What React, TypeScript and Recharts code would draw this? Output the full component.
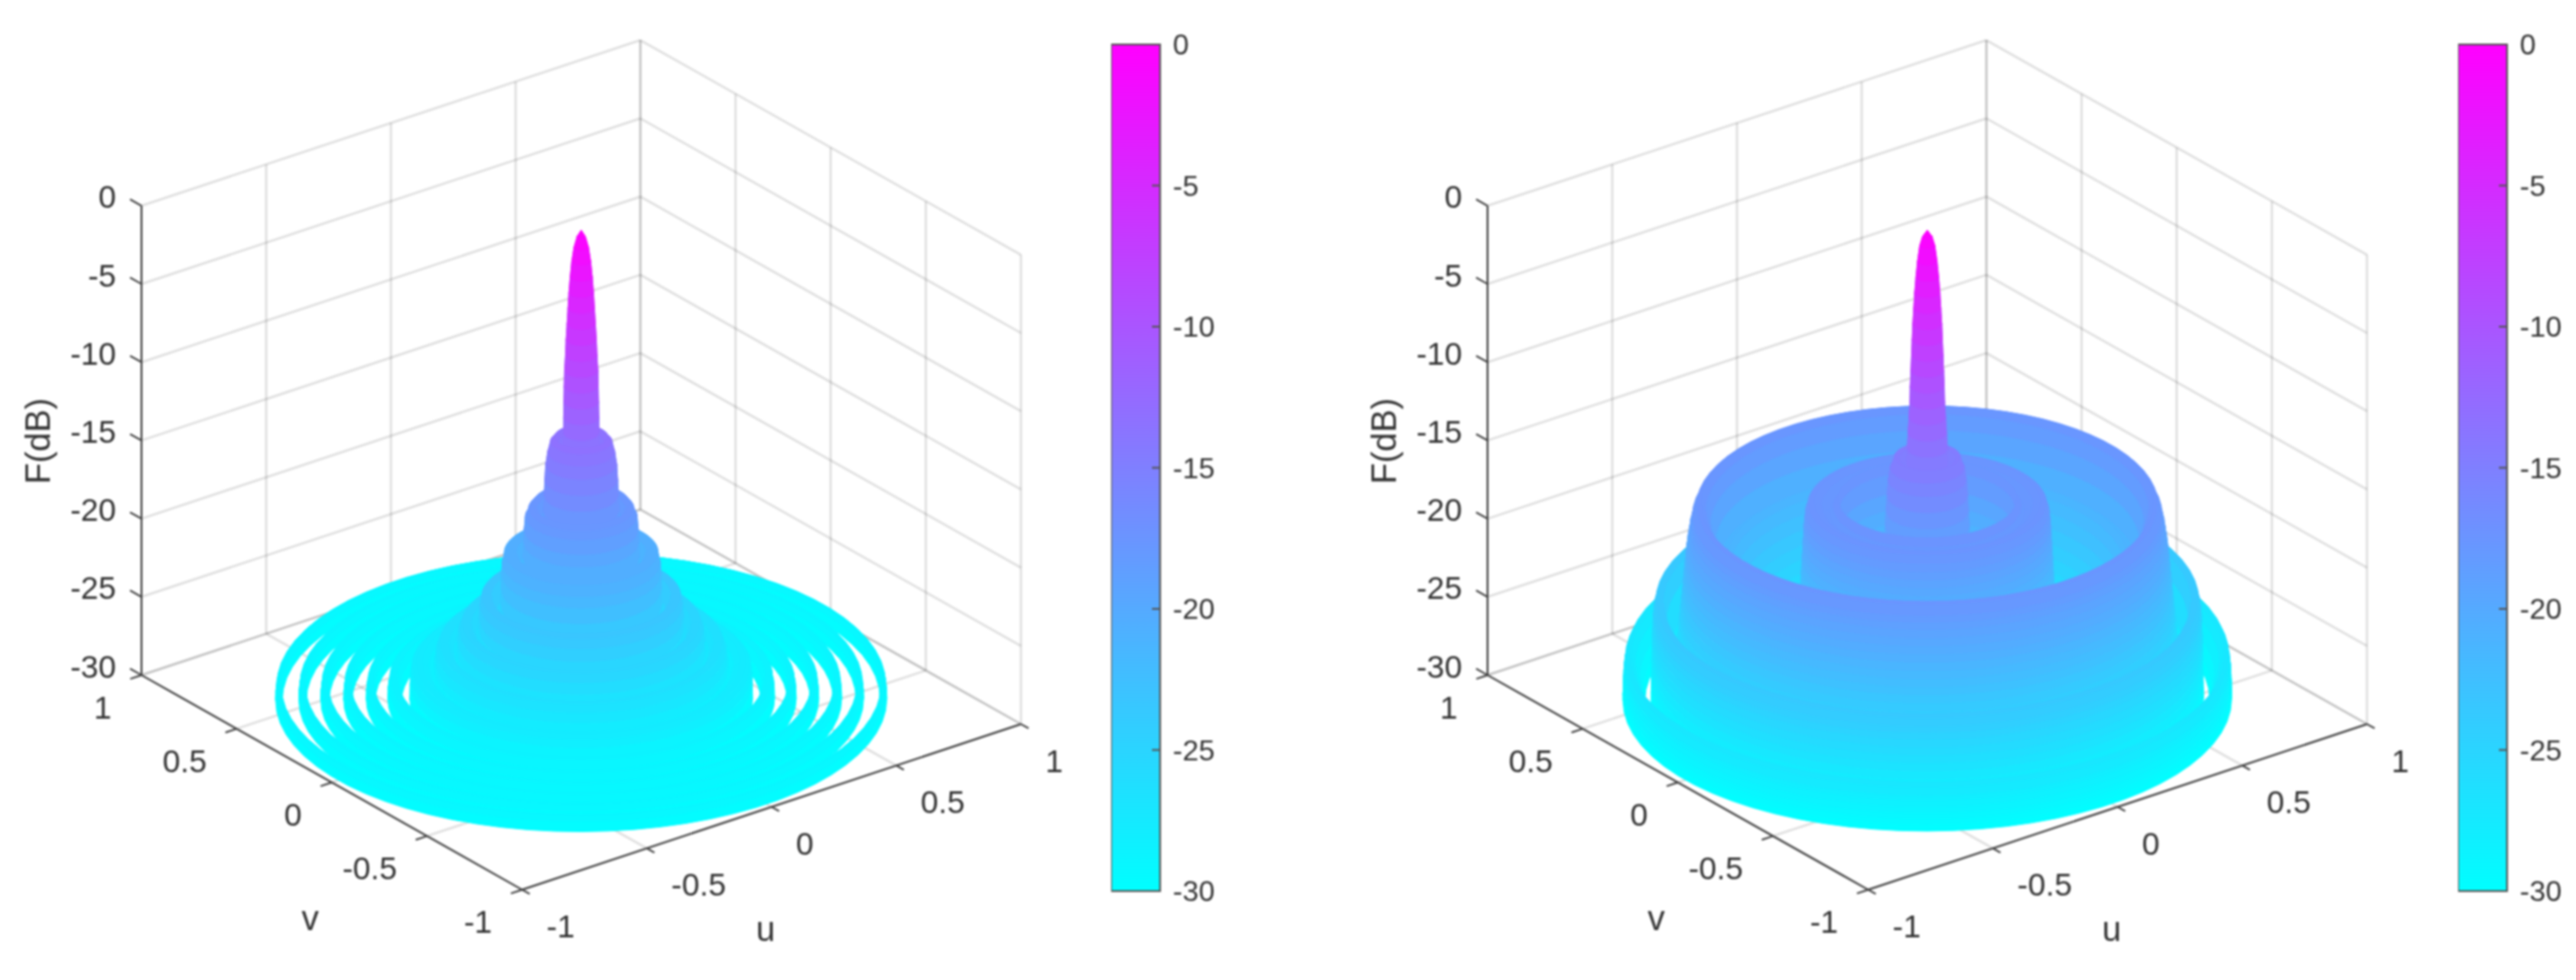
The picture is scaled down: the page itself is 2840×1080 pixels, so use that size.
import { ComposedChart, BarChart, Bar, Line, XAxis, YAxis } from "recharts";

// axis ticks as printed on the figure
const uvTicks = [-1, -0.5, 0, 0.5, 1];
const dbTicks = [-30, -25, -20, -15, -10, -5, 0];

// Radiation pattern profiles: [radius in uv, F in dB].
// Every lobe is listed from its outer edge to its inner edge, outermost lobe first.
// Below -30 dB the surface is clipped, so there is a hole between separate lobes.
const leftLobes: number[][][] = [
  [[0.974, -30], [0.973, -29.4], [0.97, -29.05], [0.963, -29], [0.957, -29.05], [0.954, -29.4], [0.953, -30]],
  [[0.9, -30], [0.899, -29.4], [0.896, -29], [0.888, -28.95], [0.88, -29], [0.877, -29.4], [0.876, -30]],
  [[0.83, -30], [0.829, -29.4], [0.826, -28.95], [0.816, -28.9], [0.807, -28.95], [0.804, -29.4], [0.803, -30]],
  [[0.757, -30], [0.756, -29.4], [0.753, -28.9], [0.743, -28.85], [0.735, -28.9], [0.731, -29.4], [0.73, -30]],
  [[0.685, -30], [0.684, -29.3], [0.68, -28.85], [0.67, -28.75], [0.661, -28.85], [0.657, -29.3], [0.656, -30]],
  [[0.616, -30], [0.615, -29.2], [0.61, -28.6], [0.6, -28.5], [0.585, -28.6], [0.575, -29.2], [0.572, -30]],
  [[0.546, -30], [0.545, -29], [0.544, -28.4], [0.54, -27.9], [0.525, -27.7], [0.505, -27.7], [0.485, -27.9], [0.47, -28.5],
    [0.468, -28], [0.466, -27.5], [0.462, -26.9], [0.452, -26.4], [0.44, -26.3], [0.42, -26.5], [0.405, -27], [0.397, -27.5],
    [0.396, -27], [0.394, -26.3], [0.39, -25.6], [0.38, -25.1], [0.365, -25], [0.35, -25.2], [0.335, -25.8], [0.327, -26.5],
    [0.326, -25.5], [0.325, -24.8], [0.323, -24], [0.317, -23.4], [0.3, -23.2], [0.285, -23.4], [0.27, -24.5], [0.258, -25.5],
    [0.256, -24], [0.255, -23], [0.254, -22], [0.252, -21.3], [0.245, -20.6], [0.22, -20.3], [0.205, -20.6], [0.195, -21.5], [0.188, -23],
    [0.187, -22], [0.185, -21], [0.183, -20], [0.182, -19.2], [0.178, -18.3], [0.168, -17.8], [0.155, -17.5], [0.14, -17.8], [0.13, -18.5], [0.124, -20],
    [0.122, -19], [0.12, -18], [0.118, -17], [0.116, -16], [0.113, -15], [0.107, -14.2], [0.098, -13.5], [0.085, -13.2], [0.072, -13.6], [0.064, -14.5],
    [0.058, -14], [0.056, -13], [0.056, -12], [0.055, -11], [0.054, -10], [0.053, -9], [0.05, -8], [0.048, -7], [0.045, -6], [0.042, -5], [0.039, -4], [0.035, -3], [0.03, -2], [0.023, -1.1], [0.013, -0.4], [0, 0]],
];

const rightLobes: number[][][] = [
  [[0.97, -30], [0.97, -29.6], [0.969, -29.25], [0.969, -28.9], [0.968, -28.5], [0.967, -28.1], [0.966, -27.8], [0.962, -27.3], [0.955, -27], [0.945, -27.3], [0.93, -27.8], [0.915, -28.6], [0.905, -29.4], [0.9, -30]],
  [[0.88, -30], [0.88, -29.5], [0.879, -29], [0.879, -28.5], [0.878, -28], [0.878, -27.5], [0.877, -27], [0.877, -26.5], [0.876, -26], [0.875, -25.5], [0.874, -25], [0.873, -24.6], [0.871, -24.2], [0.865, -23.7], [0.855, -23.5], [0.84, -23.8], [0.83, -25], [0.82, -27],
    [0.81, -27.5], [0.8, -27], [0.798, -26.5], [0.795, -26], [0.793, -25.5], [0.79, -25], [0.788, -24.5], [0.785, -24], [0.783, -23.5], [0.78, -23], [0.778, -22.5], [0.775, -22], [0.773, -21.5], [0.77, -21], [0.768, -20.5], [0.765, -20], [0.761, -19.5], [0.757, -19], [0.752, -18.6], [0.748, -18.2], [0.735, -17.6], [0.72, -17.5],
    [0.705, -17.9], [0.69, -18.8], [0.675, -20], [0.665, -21.4], [0.65, -21.2], [0.635, -21], [0.625, -21.5], [0.61, -22.2], [0.595, -23], [0.58, -23.8], [0.565, -24.5], [0.55, -25.2], [0.53, -25.8], [0.48, -26.2], [0.44, -26.2], [0.42, -26],
    [0.414, -25.5], [0.412, -25], [0.41, -24.5], [0.408, -24], [0.406, -23.5], [0.405, -23], [0.403, -22.5], [0.402, -22], [0.4, -21.5], [0.399, -21], [0.397, -20.5], [0.396, -20], [0.394, -19.5], [0.393, -19], [0.391, -18.5], [0.388, -18], [0.38, -17.5], [0.36, -17.4], [0.335, -17.6], [0.31, -18], [0.3, -17.7], [0.285, -17.2], [0.277, -17.8], [0.272, -19], [0.268, -20], [0.26, -20.8], [0.2, -21.2], [0.15, -21.2],
    [0.14, -21], [0.137, -20], [0.134, -19], [0.131, -18], [0.128, -17], [0.124, -16], [0.118, -15.2], [0.105, -14.5], [0.09, -14.6], [0.075, -15],
    [0.066, -15], [0.064, -14], [0.061, -13], [0.058, -12], [0.055, -11], [0.054, -10], [0.052, -9], [0.05, -8], [0.048, -7], [0.046, -6], [0.043, -5], [0.04, -4], [0.036, -3], [0.031, -2], [0.024, -1], [0.015, -0.4], [0, 0]],
];

const PANEL_W = 1356;
const PANEL_H = 1080;
const ARC_STEPS = 36;

// 3D view of the box, calibrated on the corners of the axes
const toScreen = (u: number, v: number, f: number) => ({
  x: 640.8 + 275 * u - 209.8 * v,
  y: 771 - 91.25 * u - 118.25 * v - 17.24 * (f + 30),
});

const coolColor = (f: number) => {
  const t = Math.min(1, Math.max(0, (f + 30) / 30));
  return `rgb(${Math.round(255 * t)},${Math.round(255 * (1 - t))},255)`;
};

// the direction in uv that lands on the left/right edge of the drawn ellipse
const SPLIT = Math.atan2(-209.8, 275);

function ringArc(r: number, f: number, start: number) {
  const pts = [];
  for (let i = 0; i <= ARC_STEPS; i++) {
    const a = start + (Math.PI * i) / ARC_STEPS;
    pts.push(toScreen(r * Math.cos(a), r * Math.sin(a), f));
  }
  return pts;
}

function bandsOf(lobes: number[][][], start: number) {
  const bands = [];
  for (const lobe of lobes) {
    for (let i = 0; i + 1 < lobe.length; i++) {
      const [r1, f1] = lobe[i];
      const [r2, f2] = lobe[i + 1];
      const outer = ringArc(r1, f1, start);
      const inner = ringArc(r2, f2, start).reverse();
      bands.push({ color: coolColor((f1 + f2) / 2), points: [...outer, ...inner, outer[0]] });
    }
  }
  return bands;
}

// painter's order: back half from the rim inward, then front half from the centre outward
const surfaceOf = (lobes: number[][][]) => [
  ...bandsOf(lobes, SPLIT),
  ...bandsOf(lobes, SPLIT + Math.PI).reverse(),
];

type Seg = { points: { x: number; y: number }[] };

const gridSegments: Seg[] = [
  ...uvTicks.map((t) => ({ points: [toScreen(t, 1, -30), toScreen(t, 1, 0)] })),
  ...uvTicks.map((t) => ({ points: [toScreen(1, t, -30), toScreen(1, t, 0)] })),
  ...dbTicks.map((d) => ({ points: [toScreen(-1, 1, d), toScreen(1, 1, d)] })),
  ...dbTicks.map((d) => ({ points: [toScreen(1, 1, d), toScreen(1, -1, d)] })),
  ...uvTicks.map((t) => ({ points: [toScreen(t, -1, -30), toScreen(t, 1, -30)] })),
  ...uvTicks.map((t) => ({ points: [toScreen(-1, t, -30), toScreen(1, t, -30)] })),
];

const axisSegments: Seg[] = [
  { points: [toScreen(-1, 1, -30), toScreen(-1, 1, 0)] },
  { points: [toScreen(-1, 1, -30), toScreen(-1, -1, -30)] },
  { points: [toScreen(-1, -1, -30), toScreen(1, -1, -30)] },
  ...dbTicks.map((d) => ({ points: [toScreen(-1, 1, d), toScreen(-1, 1.06, d)] })),
  ...uvTicks.map((t) => ({ points: [toScreen(-1, t, -30), toScreen(-1.045, t, -30)] })),
  ...uvTicks.map((t) => ({ points: [toScreen(t, -1, -30), toScreen(t, -1.04, -30)] })),
];

const offset = (p: { x: number; y: number }, dx: number, dy: number) => ({ x: p.x + dx, y: p.y + dy });

const textLabels = [
  ...dbTicks.map((d) => ({ ...offset(toScreen(-1, 1, d), -28, -10), text: String(d), anchor: "end", size: 35 })),
  ...uvTicks.map((t) => ({ ...offset(toScreen(-1, t, -30), -33, 35), text: String(t), anchor: "end", size: 35 })),
  ...uvTicks.map((t) => ({ ...offset(toScreen(t, -1, -30), 27, 40), text: String(t), anchor: "start", size: 35 })),
  { x: 342, y: 1012, text: "v", anchor: "middle", size: 38 },
  { x: 844, y: 1024, text: "u", anchor: "middle", size: 38 },
  { x: 42, y: 486, text: "F(dB)", anchor: "middle", size: 38, rotate: true },
];

const renderLabel = (props: any) => {
  const { cx, cy, payload, index } = props;
  return (
    <text
      key={index}
      x={cx}
      y={cy}
      textAnchor={payload.anchor}
      dominantBaseline="central"
      fontSize={payload.size}
      fontFamily="'Liberation Sans', Arial, sans-serif"
      fill="#333333"
      transform={payload.rotate ? `rotate(-90 ${cx} ${cy})` : undefined}
    >
      {payload.text}
    </text>
  );
};

const colorTick = (props: any) => {
  const { y, payload } = props;
  return (
    <g>
      <line x1={45} x2={54} y1={y} y2={y} stroke="#555555" strokeWidth={2} />
      <text x={68} y={y} dominantBaseline="central" fontSize={32} fontFamily="'Liberation Sans', Arial, sans-serif" fill="#333333">
        {payload.value}
      </text>
    </g>
  );
};

function Colorbar({ left, id }: { left: number; id: string }) {
  return (
    <div style={{ position: "absolute", left, top: 30 }}>
      <BarChart
        width={130}
        height={971}
        data={[{ name: "F", range: [-30, 0] }]}
        margin={{ top: 19, right: 0, bottom: 19, left: 0 }}
        barCategoryGap={0}
      >
        <defs>
          <linearGradient id={id} x1="0" y1="0" x2="0" y2="1">
            <stop offset="0" stopColor="#ff00ff" />
            <stop offset="1" stopColor="#00ffff" />
          </linearGradient>
        </defs>
        <XAxis dataKey="name" hide />
        <YAxis
          orientation="right"
          width={76}
          domain={[-30, 0]}
          ticks={dbTicks}
          axisLine={false}
          tickLine={false}
          tick={colorTick}
          interval={0}
        />
        <Bar dataKey="range" fill={`url(#${id})`} stroke="#555555" strokeWidth={2} isAnimationActive={false} />
      </BarChart>
    </div>
  );
}

function Panel({ left, lobes }: { left: number; lobes: number[][][] }) {
  const surface = surfaceOf(lobes);
  return (
    <div style={{ position: "absolute", left, top: 0 }}>
      <ComposedChart width={PANEL_W} height={PANEL_H} margin={{ top: 0, right: 0, bottom: 0, left: 0 }}>
        <XAxis dataKey="x" type="number" domain={[0, PANEL_W]} hide />
        <YAxis type="number" domain={[0, PANEL_H]} reversed hide />
        {gridSegments.map((s, i) => (
          <Line key={`g${i}`} data={s.points} dataKey="y" type="linear" stroke="#262626" strokeOpacity={0.15} strokeWidth={2.5} dot={false} activeDot={false} isAnimationActive={false} />
        ))}
        {surface.map((b, i) => (
          <Line
            key={`s${i}`}
            data={b.points}
            dataKey="y"
            type="linear"
            stroke={b.color}
            strokeWidth={1}
            style={{ fill: b.color }}
            dot={false}
            activeDot={false}
            isAnimationActive={false}
          />
        ))}
        {axisSegments.map((s, i) => (
          <Line key={`a${i}`} data={s.points} dataKey="y" type="linear" stroke="#404040" strokeWidth={2} dot={false} activeDot={false} isAnimationActive={false} />
        ))}
        <Line data={textLabels} dataKey="y" stroke="none" dot={renderLabel} activeDot={false} isAnimationActive={false} />
      </ComposedChart>
    </div>
  );
}

export default function App() {
  return (
    <div style={{ position: "absolute", left: 0, top: 0, width: 2840, height: 1080, overflow: "hidden", background: "#fff", filter: "blur(0.8px)" }}>
      <Panel left={0} lobes={leftLobes} />
      <Colorbar left={1225} id="coolLeft" />
      <Panel left={1484} lobes={rightLobes} />
      <Colorbar left={2710} id="coolRight" />
    </div>
  );
}
